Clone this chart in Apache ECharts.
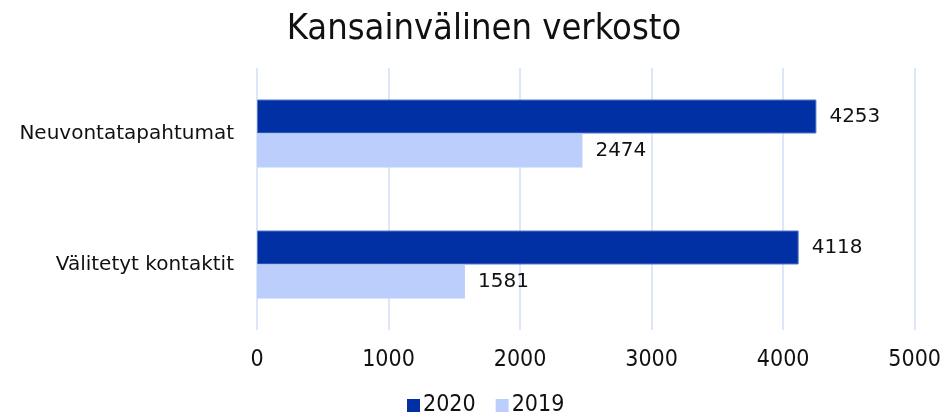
<!DOCTYPE html>
<html>
<head>
<meta charset="utf-8">
<script src="https://cdn.jsdelivr.net/npm/echarts@6/dist/echarts.min.js"></script>
<style>
  html, body { margin: 0; padding: 0; background: #fff; }
  #chart { width: 944px; height: 414px; }
</style>
</head>
<body>
<div id="chart"></div>
<script>
const categories = ['Neuvontatapahtumat', 'Välitetyt kontaktit']
const values2020 = [4253, 4118]
const values2019 = [2474, 1581]
const seriesNames = ['2020', '2019']

const chart = echarts.init(document.getElementById('chart'))

const option = {
  animation: false,
  title: {
    text: 'Kansainvälinen verkosto',
    left: 479,
    textAlign: 'center',
    top: 7,
    textStyle: {
      fontFamily: 'DejaVu Sans Condensed',
      fontWeight: 'normal',
      fontSize: 36,
      color: '#111'
    }
  },
  legend: {
    data: seriesNames,
    left: 402,
    top: 389,
    itemWidth: 13,
    itemHeight: 13,
    itemGap: 20,
    icon: 'rect',
    itemStyle: { borderWidth: 0 },
    textStyle: {
      fontFamily: 'DejaVu Sans Condensed',
      fontSize: 23,
      color: '#111',
      padding: [0, 0, 0, -2]
    }
  },
  grid: {
    left: 257,
    right: 29,
    top: 68,
    bottom: 84
  },
  xAxis: {
    type: 'value',
    min: 0,
    max: 5000,
    interval: 1000,
    axisLine: { show: false },
    axisTick: { show: false },
    splitLine: { lineStyle: { color: '#d3def9', width: 1.5 } },
    axisLabel: {
      margin: 19,
      formatter: (v) => String(v),
      fontFamily: 'DejaVu Sans Condensed',
      fontSize: 23,
      color: '#111'
    }
  },
  yAxis: {
    type: 'category',
    data: categories,
    inverse: true,
    axisLine: { show: false },
    axisTick: { show: false },
    axisLabel: {
      margin: 23,
      fontFamily: 'DejaVu Sans',
      fontSize: 20,
      color: '#111'
    }
  },
  series: [
    {
      name: '2020',
      type: 'bar',
      data: values2020,
      barWidth: 34,
      barGap: '0%',
      itemStyle: { color: '#0030a3', borderColor: '#5577cc', borderWidth: 1 },
      label: {
        show: true,
        position: 'right',
        distance: 13,
        fontFamily: 'DejaVu Sans',
        fontSize: 20,
        color: '#111'
      }
    },
    {
      name: '2019',
      type: 'bar',
      data: values2019,
      barWidth: 34,
      barGap: '0%',
      itemStyle: { color: '#bccefb' },
      label: {
        show: true,
        position: 'right',
        distance: 13,
        fontFamily: 'DejaVu Sans',
        fontSize: 20,
        color: '#111'
      }
    }
  ]
}

chart.setOption(option)
</script>
</body>
</html>
